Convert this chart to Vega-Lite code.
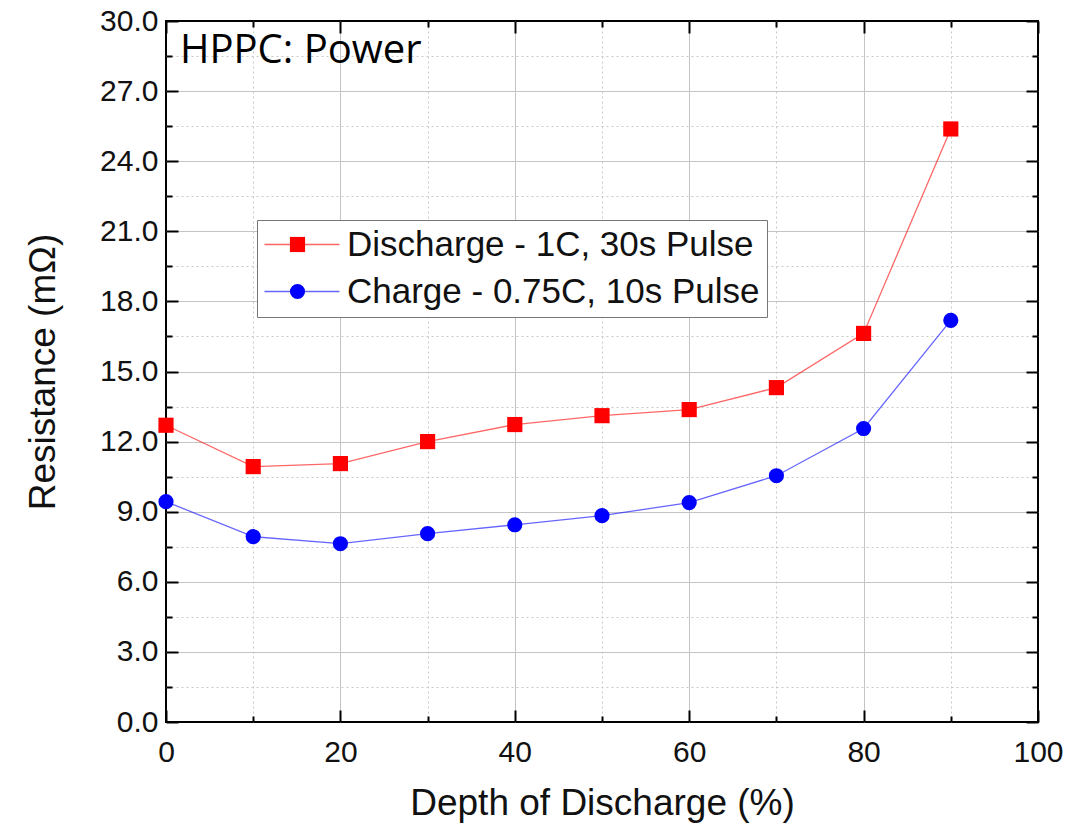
{
  "$schema": "https://vega.github.io/schema/vega-lite/v6.json",
  "width": 872,
  "height": 701,
  "autosize": {"type": "none"},
  "padding": {"left": 166, "top": 21, "right": 48, "bottom": 106},
  "config": {
    "view": {"stroke": "#000", "strokeWidth": 2},
    "font": "Liberation Sans",
    "axis": {"labelColor": "#111", "titleColor": "#111", "tickColor": "#000", "tickWidth": 2, "domain": false}
  },
  "datasets": {
    "series": [
      {"dod": 0, "resistance": 12.7, "series": "Discharge - 1C, 30s Pulse"},
      {"dod": 10, "resistance": 10.93, "series": "Discharge - 1C, 30s Pulse"},
      {"dod": 20, "resistance": 11.06, "series": "Discharge - 1C, 30s Pulse"},
      {"dod": 30, "resistance": 12.0, "series": "Discharge - 1C, 30s Pulse"},
      {"dod": 40, "resistance": 12.73, "series": "Discharge - 1C, 30s Pulse"},
      {"dod": 50, "resistance": 13.11, "series": "Discharge - 1C, 30s Pulse"},
      {"dod": 60, "resistance": 13.37, "series": "Discharge - 1C, 30s Pulse"},
      {"dod": 70, "resistance": 14.31, "series": "Discharge - 1C, 30s Pulse"},
      {"dod": 80, "resistance": 16.63, "series": "Discharge - 1C, 30s Pulse"},
      {"dod": 90, "resistance": 25.38, "series": "Discharge - 1C, 30s Pulse"},
      {"dod": 0, "resistance": 9.43, "series": "Charge - 0.75C, 10s Pulse"},
      {"dod": 10, "resistance": 7.93, "series": "Charge - 0.75C, 10s Pulse"},
      {"dod": 20, "resistance": 7.63, "series": "Charge - 0.75C, 10s Pulse"},
      {"dod": 30, "resistance": 8.06, "series": "Charge - 0.75C, 10s Pulse"},
      {"dod": 40, "resistance": 8.44, "series": "Charge - 0.75C, 10s Pulse"},
      {"dod": 50, "resistance": 8.83, "series": "Charge - 0.75C, 10s Pulse"},
      {"dod": 60, "resistance": 9.39, "series": "Charge - 0.75C, 10s Pulse"},
      {"dod": 70, "resistance": 10.54, "series": "Charge - 0.75C, 10s Pulse"},
      {"dod": 80, "resistance": 12.56, "series": "Charge - 0.75C, 10s Pulse"},
      {"dod": 90, "resistance": 17.19, "series": "Charge - 0.75C, 10s Pulse"}
    ],
    "note": [{"x": 1.6, "y": 28.2, "label": "HPPC: Power"}]
  },
  "layer": [
    {
      "data": {"name": "series"},
      "transform": [{"filter": "datum.series === 'Discharge - 1C, 30s Pulse'"}],
      "mark": {"type": "line", "strokeWidth": 1.3, "opacity": 0.6},
      "encoding": {
        "x": {
          "field": "dod", "type": "quantitative",
          "scale": {"domain": [0, 100], "nice": false, "zero": false},
          "axis": {
            "orient": "bottom",
            "values": [0, 20, 40, 60, 80, 100],
            "format": "d",
            "labelFontSize": 30,
            "labelPadding": 15,
            "labelFlush": false,
            "grid": true,
            "gridColor": "#c4c4c4",
            "gridWidth": 1,
            "gridOpacity": {"condition": {"test": "datum.value === 0 || datum.value === 100", "value": 0}, "value": 1},
            "tickSize": 12,
            "offset": -12,
            "title": "Depth of Discharge (%)",
            "titleFontSize": 37,
            "titleFontWeight": "normal",
            "titlePadding": 18
          }
        },
        "y": {
          "field": "resistance", "type": "quantitative",
          "scale": {"domain": [0, 30], "nice": false},
          "axis": {
            "orient": "left",
            "values": [0, 3, 6, 9, 12, 15, 18, 21, 24, 27, 30],
            "format": ".1f",
            "labelFontSize": 30,
            "labelPadding": 8,
            "labelFlush": false,
            "grid": true,
            "gridColor": "#c4c4c4",
            "gridWidth": 1,
            "gridOpacity": {"condition": {"test": "datum.value === 0 || datum.value === 30", "value": 0}, "value": 1},
            "tickSize": 12,
            "offset": -12,
            "title": "Resistance (mΩ)",
            "titleFontSize": 37,
            "titleFontWeight": "normal",
            "titlePadding": 37
          }
        },
        "color": {
          "field": "series", "type": "nominal",
          "scale": {"domain": ["Discharge - 1C, 30s Pulse", "Charge - 0.75C, 10s Pulse"], "range": ["#ff0000", "#0000ff"]},
          "legend": {
            "orient": "none",
            "legendX": 91,
            "legendY": 199,
            "title": null,
            "labelFontSize": 35,
            "labelColor": "#111",
            "labelLimit": 0,
            "labelOffset": 48,
            "symbolType": "M-1.89,0H6.44",
            "symbolSize": 324,
            "symbolStrokeWidth": 1.3,
            "rowPadding": 11,
            "padding": 7,
            "strokeColor": "#777",
            "fillColor": "#ffffff",
            "zindex": 1
          }
        }
      }
    },
    {
      "data": {"name": "series"},
      "transform": [{"filter": "datum.series === 'Charge - 0.75C, 10s Pulse'"}],
      "mark": {"type": "line", "strokeWidth": 1.3, "opacity": 0.6},
      "encoding": {
        "x": {
          "field": "dod", "type": "quantitative",
          "axis": {
            "orient": "bottom",
            "values": [10, 30, 50, 70, 90],
            "labels": false,
            "grid": true,
            "gridColor": "#c8c8c8",
            "gridWidth": 1,
            "gridDash": [2, 3],
            "tickSize": 6,
            "offset": -6,
            "title": null
          }
        },
        "y": {
          "field": "resistance", "type": "quantitative",
          "axis": {
            "orient": "left",
            "values": [1.5, 4.5, 7.5, 10.5, 13.5, 16.5, 19.5, 22.5, 25.5, 28.5],
            "labels": false,
            "grid": true,
            "gridColor": "#c8c8c8",
            "gridWidth": 1,
            "gridDash": [2, 3],
            "tickSize": 6,
            "offset": -6,
            "title": null
          }
        },
        "color": {
          "field": "series", "type": "nominal",
          "scale": {"domain": ["Discharge - 1C, 30s Pulse", "Charge - 0.75C, 10s Pulse"], "range": ["#ff0000", "#0000ff"]},
          "legend": null
        }
      }
    },
    {
      "data": {"name": "series"},
      "mark": {"type": "point", "filled": true, "opacity": 1, "size": 230},
      "encoding": {
        "x": {
          "field": "dod", "type": "quantitative",
          "axis": {
            "orient": "top",
            "values": [0, 20, 40, 60, 80, 100],
            "labels": false,
            "grid": false,
            "tickSize": 12,
            "offset": -12,
            "title": null
          }
        },
        "y": {
          "field": "resistance", "type": "quantitative",
          "axis": {
            "orient": "right",
            "values": [0, 3, 6, 9, 12, 15, 18, 21, 24, 27, 30],
            "labels": false,
            "grid": false,
            "tickSize": 12,
            "offset": -12,
            "title": null
          }
        },
        "color": {
          "field": "series", "type": "nominal",
          "scale": {"domain": ["Discharge - 1C, 30s Pulse", "Charge - 0.75C, 10s Pulse"], "range": ["#ff0000", "#0000ff"]},
          "legend": {
            "orient": "none",
            "legendX": 107,
            "legendY": 199,
            "title": null,
            "labelFontSize": 35,
            "labelExpr": "''",
            "labelLimit": 0,
            "labelOffset": 48,
            "symbolSize": 230,
            "rowPadding": 11,
            "padding": 7,
            "symbolStrokeWidth": 0,
            "zindex": 2
          }
        },
        "shape": {
          "field": "series", "type": "nominal",
          "scale": {"domain": ["Discharge - 1C, 30s Pulse", "Charge - 0.75C, 10s Pulse"], "range": ["square", "circle"]}
        }
      }
    },
    {
      "data": {"name": "note"},
      "mark": {"type": "text", "font": "Open Sans", "fontSize": 40, "align": "left", "baseline": "alphabetic", "color": "#000"},
      "encoding": {
        "x": {
          "field": "x", "type": "quantitative",
          "axis": {
            "orient": "top",
            "values": [10, 30, 50, 70, 90],
            "labels": false,
            "grid": false,
            "tickSize": 6,
            "offset": -6,
            "title": null
          }
        },
        "y": {
          "field": "y", "type": "quantitative",
          "axis": {
            "orient": "right",
            "values": [1.5, 4.5, 7.5, 10.5, 13.5, 16.5, 19.5, 22.5, 25.5, 28.5],
            "labels": false,
            "grid": false,
            "tickSize": 6,
            "offset": -6,
            "title": null
          }
        },
        "text": {"field": "label"}
      }
    }
  ],
  "resolve": {
    "axis": {"x": "independent", "y": "independent"},
    "legend": {"color": "independent", "shape": "independent"}
  }
}
